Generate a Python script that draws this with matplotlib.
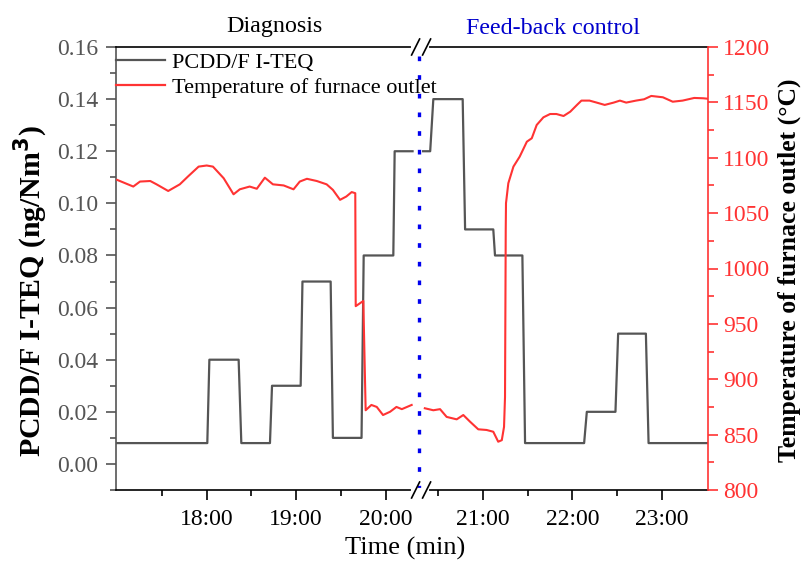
import matplotlib
matplotlib.use("Agg")
import matplotlib.pyplot as plt
from matplotlib.lines import Line2D
from matplotlib.ticker import FixedLocator, MultipleLocator

plt.rcParams['font.family'] = ['Liberation Serif', 'DejaVu Serif']

# ---- data (time in decimal hours of the day) ----
# PCDD/F I-TEQ, ng/Nm3 -- diagnosis phase
diag_pcdd_t = [17.0, 18.007, 18.03, 18.357, 18.387, 18.707, 18.73, 19.05, 19.07,
               19.385, 19.41, 19.73, 19.754, 20.085, 20.10, 20.30]
diag_pcdd_v = [0.008, 0.008, 0.04, 0.04, 0.008, 0.008, 0.03, 0.03, 0.07,
               0.07, 0.01, 0.01, 0.08, 0.08, 0.12, 0.12]
# PCDD/F I-TEQ, ng/Nm3 -- feed-back control phase
fb_pcdd_t = [20.30, 20.41, 20.445, 20.773, 20.80, 21.115, 21.134, 21.44, 21.47,
             22.13, 22.16, 22.48, 22.51, 22.82, 22.85, 23.6]
fb_pcdd_v = [0.12, 0.12, 0.14, 0.14, 0.09, 0.09, 0.08, 0.08, 0.008,
             0.008, 0.02, 0.02, 0.05, 0.05, 0.008, 0.008]

# furnace outlet temperature, degC -- diagnosis phase
diag_temp_t = [17.0, 17.18, 17.255, 17.37, 17.44, 17.57, 17.70, 17.79, 17.91, 18.0,
               18.07, 18.19, 18.30, 18.37, 18.48, 18.56, 18.65, 18.74, 18.86, 18.97,
               19.04, 19.12, 19.23, 19.34, 19.41, 19.49, 19.56, 19.62, 19.66, 19.665,
               19.75, 19.776, 19.84, 19.90, 19.97, 20.05, 20.12, 20.18, 20.29]
diag_temp_v = [1080, 1074, 1078.5, 1079, 1076, 1070, 1076, 1083, 1092, 1093,
               1092, 1081.5, 1067, 1071.5, 1074, 1072, 1082, 1076, 1075, 1071.5,
               1078.5, 1081, 1079, 1076, 1071, 1062, 1065, 1069, 1068, 966,
               970.7, 872, 876.8, 875, 867.7, 870.7, 875, 873, 876.8]
# furnace outlet temperature, degC -- feed-back control phase
fb_temp_t = [20.35, 20.445, 20.52, 20.594, 20.706, 20.78, 20.855, 20.947, 21.04,
             21.115, 21.17, 21.21, 21.235, 21.246, 21.254, 21.257, 21.283, 21.34,
             21.41, 21.49, 21.545, 21.60, 21.675, 21.75, 21.82, 21.90, 21.975,
             22.05, 22.10, 22.19, 22.27, 22.36, 22.46, 22.53, 22.60, 22.71, 22.80,
             22.88, 23.01, 23.12, 23.23, 23.36, 23.46, 23.55]
fb_temp_v = [873.8, 872, 873, 866, 863.8, 867.7, 861.7, 854.8, 854.2,
             852.6, 843.6, 845, 857, 884, 1035, 1059, 1077, 1092,
             1101, 1114.5, 1117.6, 1129.6, 1136.5, 1139.5, 1139.5, 1137.7, 1141.6,
             1147.7, 1151.6, 1151.6, 1149.8, 1147.7, 1149.8, 1151.6, 1149.8, 1151.6, 1152.8,
             1155.8, 1154.6, 1150.6, 1151.6, 1154, 1153.7, 1153]

# start of feed-back control
control_start = 20.37

# ---- axes ticks / labels ----
diag_hours = [18, 19, 20]
fb_hours = [21, 22, 23]
diag_half = [17.5, 18.5, 19.5]
fb_half = [20.5, 21.5, 22.5]
pcdd_ticks = [0.00, 0.02, 0.04, 0.06, 0.08, 0.10, 0.12, 0.14, 0.16]
temp_ticks = [800, 850, 900, 950, 1000, 1050, 1100, 1150, 1200]

W, H = 803, 561
fig = plt.figure(figsize=(W / 100, H / 100), dpi=100)


def fx(x):
    return x / W


def fy(y):
    return 1 - y / H


left_px, brk_px, right_px = 116, 421.6, 708
top_px, bot_px = 47, 490

GRAY = '#555555'
RED = '#ff3333'
BLUE = '#0000ee'

ax_l = fig.add_axes([fx(left_px), fy(bot_px), (brk_px - left_px) / W, (bot_px - top_px) / H])
ax_r = fig.add_axes([fx(brk_px), fy(bot_px), (right_px - brk_px) / W, (bot_px - top_px) / H],
                    sharey=ax_l)
ax_r.patch.set_visible(False)

ax_l.set_xlim(16.987, 20.401)
ax_r.set_xlim(20.314, 23.514)
ax_l.set_ylim(-0.01, 0.16)

ax_l.plot(diag_pcdd_t, diag_pcdd_v, color=GRAY, lw=1.6)
ax_r.plot(fb_pcdd_t, fb_pcdd_v, color=GRAY, lw=1.6)

tl = ax_l.twinx()
tr = ax_r.twinx()
for t in (tl, tr):
    t.set_ylim(800, 1200)
tl.plot(diag_temp_t, diag_temp_v, color=RED, lw=1.5)
tr.plot(fb_temp_t, fb_temp_v, color=RED, lw=1.5)

# spines
for ax in (ax_l, ax_r):
    for s in ('top', 'bottom'):
        ax.spines[s].set_color('black')
        ax.spines[s].set_linewidth(1.2)
    ax.spines['right'].set_visible(False)
ax_l.spines['left'].set_color(GRAY)
ax_l.spines['left'].set_linewidth(1.2)
ax_r.spines['left'].set_visible(False)
for t in (tl, tr):
    for s in ('top', 'bottom', 'left'):
        t.spines[s].set_visible(False)
tl.spines['right'].set_visible(False)
tl.tick_params(right=False, labelright=False, which='both')
tr.spines['right'].set_color(RED)
tr.spines['right'].set_linewidth(1.2)

# x ticks
ax_l.xaxis.set_major_locator(FixedLocator(diag_hours))
ax_l.xaxis.set_minor_locator(FixedLocator(diag_half))
ax_l.set_xticklabels([f"{h}:00" for h in diag_hours])
ax_r.xaxis.set_major_locator(FixedLocator(fb_hours))
ax_r.xaxis.set_minor_locator(FixedLocator(fb_half))
ax_r.set_xticklabels([f"{h}:00" for h in fb_hours])
for ax in (ax_l, ax_r):
    ax.tick_params(axis='x', which='major', direction='out', length=7, width=1.2,
                   labelsize=17, pad=7, colors='black')
    ax.tick_params(axis='x', which='minor', direction='out', length=4, width=1.2, colors='black')

# left y ticks
ax_l.yaxis.set_major_locator(FixedLocator(pcdd_ticks))
ax_l.yaxis.set_minor_locator(MultipleLocator(0.01))
ax_l.set_yticklabels([f"{v:.2f}" for v in pcdd_ticks])
ax_l.tick_params(axis='y', which='major', direction='out', length=7, width=1.2,
                 labelsize=17, pad=6, colors=GRAY)
ax_l.tick_params(axis='y', which='minor', direction='out', length=4, width=1.2, colors=GRAY)
ax_r.tick_params(axis='y', which='both', left=False, labelleft=False)

# right y ticks
tr.yaxis.set_major_locator(FixedLocator(temp_ticks))
tr.yaxis.set_minor_locator(MultipleLocator(25))
tr.set_yticklabels([str(v) for v in temp_ticks])
tr.tick_params(axis='y', which='major', direction='out', length=7, width=1.2,
               labelsize=17, pad=4, colors=RED)
tr.tick_params(axis='y', which='minor', direction='out', length=4, width=1.2, colors=RED)

# feed-back control start marker
ax_l.axvline(control_start, color=BLUE, lw=2.4, linestyle=(0, (1.4, 4.2)),
             dash_capstyle='butt', clip_on=False, zorder=5)

# axis break marks on top and bottom spines
for yb in (top_px, bot_px):
    fig.add_artist(Line2D([fx(brk_px - 9), fx(brk_px + 5)], [fy(yb), fy(yb)],
                          color='white', lw=3, transform=fig.transFigure, zorder=10))
    for dx in (-6, 5):
        fig.add_artist(Line2D([fx(brk_px + dx - 4), fx(brk_px + dx + 4)],
                              [fy(yb + 8), fy(yb - 8)], color='black', lw=1.2,
                              transform=fig.transFigure, zorder=11))

# legend
handles = [Line2D([], [], color=GRAY, lw=1.6), Line2D([], [], color=RED, lw=1.6)]
fig.legend(handles, ['PCDD/F I-TEQ', 'Temperature of furnace outlet'],
           loc='upper left', bbox_to_anchor=(fx(left_px), fy(top_px + 5)),
           frameon=False, fontsize=16, handlelength=2.2, handletextpad=0.3,
           labelspacing=0.22, borderpad=0.0, borderaxespad=0.0)

# phase titles
fig.text(fx(274.7), fy(32), 'Diagnosis', fontsize=17.3, color='black',
         ha='center', va='baseline')
fig.text(fx(553), fy(34), 'Feed-back control', fontsize=17.3, color='#0000cc',
         ha='center', va='baseline')

# axis titles
fig.text(fx(405), fy(555), 'Time (min)', fontsize=19, ha='center', va='baseline')
fig.text(fx(31), fy(291), r'PCDD/F I-TEQ (ng/Nm$^{\mathbf{3}}$)', fontsize=21.5,
         fontweight='bold', rotation=90, ha='center', va='center')
fig.text(fx(789), fy(270), 'Temperature of furnace outlet (\u00b0C)', fontsize=18.5,
         fontweight='bold', rotation=90, ha='center', va='center')

fig.savefig('out.png', dpi=100)
